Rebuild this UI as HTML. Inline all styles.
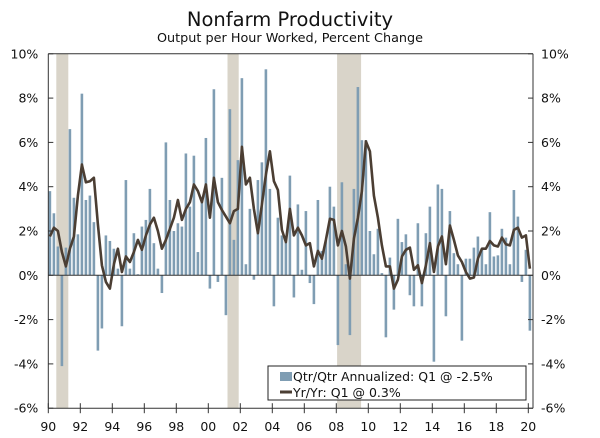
<!DOCTYPE html>
<html><head><meta charset="utf-8">
<style>
body{margin:0;background:#fff;}
svg{display:block;font-family:"DejaVu Sans","Liberation Sans",sans-serif;}
</style></head>
<body>
<svg id="chart" width="600" height="438" viewBox="0 0 600 438" xmlns="http://www.w3.org/2000/svg">
<text x="290" y="26" text-anchor="middle" font-size="19.5" fill="#111">Nonfarm Productivity</text>
<text x="290" y="42" text-anchor="middle" font-size="12.8" fill="#111">Output per Hour Worked, Percent Change</text>
<g id="rec"></g>
<g id="bars"></g>
<g id="line"></g>
<g id="axes"></g>
<g>
<rect x="268" y="366" width="258" height="34" fill="#fff" stroke="#222" stroke-width="1"/>
<rect x="280" y="372" width="12" height="9" fill="#7f9db3"/>
<text x="293" y="381" font-size="12.5" fill="#111">Qtr/Qtr Annualized: Q1 @ -2.5%</text>
<line x1="280" y1="392" x2="292" y2="392" stroke="#4b3e33" stroke-width="3"/>
<text x="293" y="397" font-size="12.5" fill="#111">Yr/Yr: Q1 @ 0.3%</text>
</g>
</svg>
<script>
const qtrValues=[3.8,2.8,1.3,-4.1,1.25,6.6,3.5,1.85,8.2,3.4,3.6,2.4,-3.4,-2.4,1.8,1.55,1.2,0.3,-2.3,4.3,0.3,1.9,0.05,2.2,2.5,3.9,1.45,0.3,-0.8,6.0,3.4,2.0,2.35,2.2,5.5,3.1,5.4,1.05,3.4,6.2,-0.6,8.4,-0.3,4.4,-1.8,7.5,1.6,5.2,8.9,0.5,3.0,-0.2,4.3,5.1,9.3,3.9,-1.4,2.6,1.8,1.5,4.5,-1.0,3.2,0.25,2.9,-0.35,-1.3,3.4,1.1,1.6,4.0,3.1,-3.15,4.2,0.5,-2.7,3.9,8.5,6.1,6.1,2.0,0.95,2.1,0.1,-2.8,0.8,-1.55,2.55,1.5,1.85,-0.9,-1.4,2.35,-1.4,1.9,3.1,-3.9,4.1,3.9,-1.85,2.9,1.0,0.5,-2.95,0.75,0.75,1.25,1.75,1.2,0.5,2.85,0.85,0.9,2.1,1.7,0.5,3.85,2.65,-0.3,1.15,-2.5];
const yrValues=[1.75,2.15,2.0,1.05,0.4,1.2,1.75,3.6,5.0,4.2,4.25,4.4,2.3,0.45,-0.3,-0.6,0.5,1.2,0.15,0.85,0.6,1.05,1.6,1.15,1.8,2.3,2.6,2.0,1.2,1.6,2.1,2.6,3.4,2.5,3.0,3.3,4.1,3.8,3.3,4.1,2.6,4.4,3.3,2.95,2.65,2.35,2.9,3.0,5.8,4.1,4.4,3.0,1.9,3.2,4.55,5.6,4.25,3.85,2.05,1.5,3.0,1.8,2.15,1.8,1.35,1.45,0.4,1.1,0.75,1.6,2.55,2.5,1.35,2.0,1.3,-0.15,1.65,2.6,3.8,6.05,5.6,3.6,2.6,1.35,0.4,0.4,-0.6,-0.2,0.85,1.15,1.25,0.25,0.45,-0.35,0.45,1.45,0.15,1.3,1.75,0.5,2.25,1.6,0.9,0.6,0.15,-0.15,-0.1,0.75,1.2,1.2,1.55,1.35,1.3,1.7,1.4,1.35,2.05,2.15,1.7,1.8,0.3];
const recessions=[[1990.5,1991.25],[2001.2,2001.9],[2008.05,2009.55]];
const yTicks=[10,8,6,4,2,0,-2,-4,-6];
const xTickYears=[1990,1992,1994,1996,1998,2000,2002,2004,2006,2008,2010,2012,2014,2016,2018,2020];
const NS='http://www.w3.org/2000/svg';
const L=48.3,R=533,T=53.8;
function yS(v){return 275.3-v*22.15;}
function xYear(y){return L+(y-1990)*16;}
function xQ(q){return L+q*4+1.6;}
function mk(tag,attrs,parent){const e=document.createElementNS(NS,tag);for(const k in attrs)e.setAttribute(k,attrs[k]);parent.appendChild(e);return e;}
const rec=document.getElementById('rec');
recessions.forEach(r=>{const e=mk('rect',{x:xYear(r[0]),y:T,width:xYear(r[1])-xYear(r[0]),height:yS(-6)-T,fill:'#d9d4c9'},rec);

});
const bars=document.getElementById('bars');
qtrValues.forEach((v,i)=>{const y0=yS(0),y1=yS(v);const e=mk('rect',{x:xQ(i)-1.3,y:Math.min(y0,y1),width:2.6,height:Math.abs(y1-y0),fill:'#7f9db3'},bars);

});
const ax=document.getElementById('axes');
const zl=mk('line',{x1:L,y1:yS(0),x2:R,y2:yS(0),stroke:'#333','stroke-width':1},ax);


const lineG=document.getElementById('line');
const pts=yrValues.map((v,i)=>xQ(i).toFixed(1)+','+yS(v).toFixed(1)).join(' ');
const pl=mk('polyline',{points:pts,fill:'none',stroke:'#4b3e33','stroke-width':2.6,'stroke-linejoin':'round'},lineG);


mk('line',{x1:L,y1:T,x2:R,y2:T,stroke:'#333'},ax);
mk('line',{x1:L,y1:T,x2:L,y2:yS(-6),stroke:'#333'},ax);
mk('line',{x1:R,y1:T,x2:R,y2:yS(-6),stroke:'#333'},ax);
mk('line',{x1:L,y1:yS(-6),x2:R,y2:yS(-6),stroke:'#333'},ax);
yTicks.forEach(t=>{const y=yS(t);
mk('line',{x1:L,y1:y,x2:L+5,y2:y,stroke:'#333'},ax);
mk('line',{x1:R-5,y1:y,x2:R,y2:y,stroke:'#333'},ax);
const a=mk('text',{x:L-10,y:y+4.5,'text-anchor':'end','font-size':12.5,fill:'#111'},ax);a.textContent=t+'%';


const b=mk('text',{x:R+8,y:y+4.5,'font-size':12.5,fill:'#111'},ax);b.textContent=t+'%';

});
xTickYears.forEach(yr=>{const x=xYear(yr);
mk('line',{x1:x,y1:yS(-6)-5,x2:x,y2:yS(-6)+5,stroke:'#333'},ax);
const t=mk('text',{x:x,y:431,'text-anchor':'middle','font-size':12.5,fill:'#111'},ax);t.textContent=String(yr%100).padStart(2,'0');

});
</script>
</body></html>
